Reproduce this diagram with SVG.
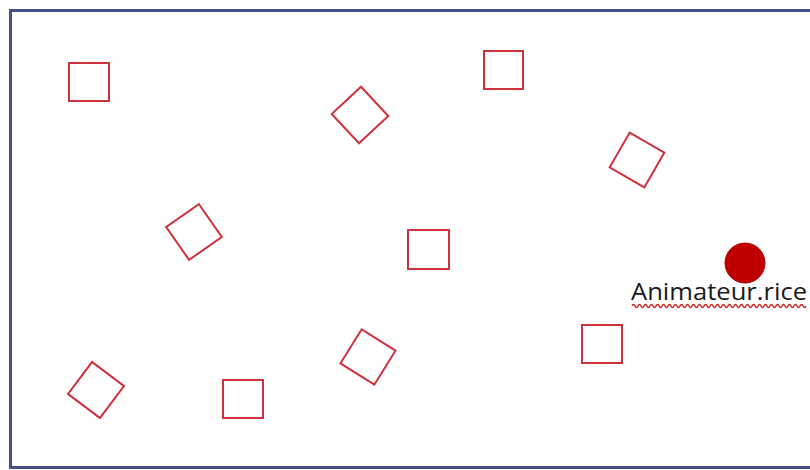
<svg xmlns="http://www.w3.org/2000/svg" width="810" height="470" viewBox="0 0 810 470">
<style>
.frame{fill:#ffffff;stroke:#44508a;stroke-width:3}
.sq{fill:none;stroke:#d0323c;stroke-width:2}
.lbl{font-family:"Open Sans","Noto Sans",sans-serif;font-size:23px;fill:#1a1a1a}
</style>
<rect class="frame" x="10.5" y="10.5" width="812" height="457"/>
<g id="sq1"><rect class="sq" x="69" y="63" width="40" height="38"/></g>
<g id="sq2"><rect class="sq" x="484" y="51" width="39" height="38"/></g>
<g id="sq3"><rect class="sq" x="408" y="230" width="41" height="39"/></g>
<g id="sq4"><rect class="sq" x="582" y="325" width="40" height="38"/></g>
<g id="sq5"><rect class="sq" x="223" y="380" width="40" height="38"/></g>
<g id="dA"><rect class="sq" x="-20" y="-20" width="40" height="40" transform="translate(360,115) rotate(47)"/></g>
<g id="dB"><rect class="sq" x="-20" y="-20" width="40" height="40" transform="translate(194,232) rotate(-35)"/></g>
<g id="dC"><rect class="sq" x="-20" y="-20" width="40" height="40" transform="translate(637,160) rotate(30)"/></g>
<g id="dD"><rect class="sq" x="-20" y="-20" width="40" height="40" transform="translate(96,390) rotate(37)"/></g>
<g id="dE"><rect class="sq" x="-20" y="-20" width="40" height="40" transform="translate(368,357) rotate(32)"/></g>
<g id="anim">
<circle cx="745" cy="263" r="20" fill="#c00000" stroke="#b00000" stroke-width="1"/>
<text class="lbl" x="631" y="300" textLength="176" lengthAdjust="spacingAndGlyphs">Animateur.rice</text>
<path d="M632 306 q1.5 -3 3 0 t3 0 t3 0 t3 0 t3 0 t3 0 t3 0 t3 0 t3 0 t3 0 t3 0 t3 0 t3 0 t3 0 t3 0 t3 0 t3 0 t3 0 t3 0 t3 0 t3 0 t3 0 t3 0 t3 0 t3 0 t3 0 t3 0 t3 0 t3 0 t3 0 t3 0 t3 0 t3 0 t3 0 t3 0 t3 0 t3 0 t3 0 t3 0 t3 0 t3 0 t3 0 t3 0 t3 0 t3 0 t3 0 t3 0 t3 0 t3 0 t3 0 t3 0 t3 0 t3 0 t3 0 t3 0 t3 0 t3 0 t3 0" fill="none" stroke="#c81e1e" stroke-width="1.3"/>
</g>
</svg>
